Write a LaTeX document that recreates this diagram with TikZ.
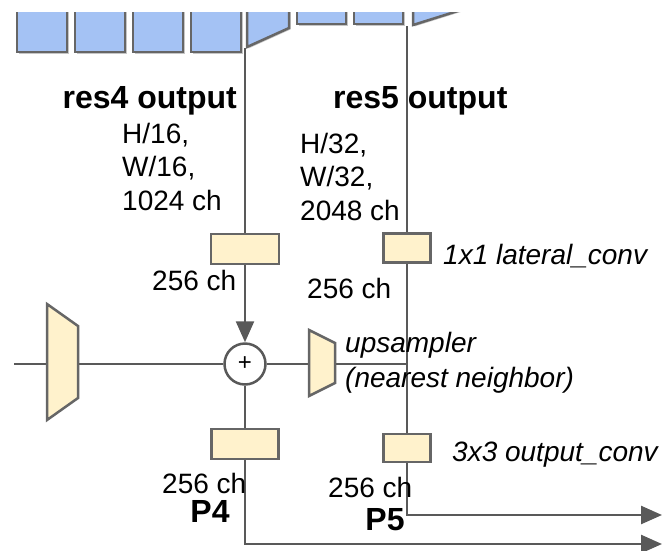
\documentclass[tikz,border=0pt]{standalone}
\usepackage{fontspec}
\setmainfont{Liberation Sans}
\usetikzlibrary{arrows.meta, calc, shadows}
\definecolor{fpn-yellow}{HTML}{FFF2CC}
\definecolor{fpn-blue}{HTML}{A4C2F4}
\definecolor{fpn-edge}{HTML}{666666}
\definecolor{fpn-line}{HTML}{595959}

\begin{document}
\begin{tikzpicture}[x=1pt, y=-1pt,
  conv/.style={draw=fpn-edge, fill=fpn-yellow, line width=2.5pt, inner sep=0pt},
  feat/.style={draw=fpn-edge, fill=fpn-blue, line width=2.5pt, drop shadow={shadow xshift=1.5pt, shadow yshift=-1.5pt, opacity=.45}},
  wire/.style={draw=fpn-line, line width=2.5pt},
  flow/.style={wire, -{Triangle[length=21pt, width=18pt]}},
  lbl/.style={inner sep=0pt, font=\fontsize{28}{33.5}\selectfont},
  head/.style={inner sep=0pt, font=\fontsize{32}{38}\selectfont\bfseries},
  note/.style={inner sep=0pt, font=\fontsize{28}{34}\selectfont\itshape},
]
  \useasboundingbox (0,0) rectangle (662,550);

  % Backbone stages (cut at the top)
  \begin{scope}
    \clip (0,12) rectangle (662,60);
    \foreach \x in {17,75,133,191}
      \draw[feat] (\x,-10) rectangle ++(50,62);
    \draw[feat] (247,-10) -- (247,47) -- (289,28) -- (289,-10) -- cycle;
    \foreach \x in {297,354}
      \draw[feat] (\x,-10) rectangle ++(49,34);
    \draw[feat] (413,-10) -- (413,25) -- (480,4) -- (480,-10) -- cycle;
  \end{scope}
  \coordinate (res4) at (245,48);
  \coordinate (res5) at (407,26);

  % Headings and shapes
  \node[head, anchor=base east] (res4-head) at (237,108) {res4 output};
  \node[head, anchor=base west] (res5-head) at (333,108) {res5 output};
  \node[lbl, align=left, anchor=north west] (res4-dim) at (122,123) {H/16,\\W/16,\\1024 ch};
  \node[lbl, align=left, anchor=north west] (res5-dim) at (300,133) {H/32,\\W/32,\\2048 ch};

  % Convolutions
  \node[conv, minimum width=68pt, minimum height=30pt] (lat4) at (245,249) {};
  \node[conv, minimum width=47pt, minimum height=29pt] (lat5) at (407,248) {};
  \node[conv, minimum width=67pt, minimum height=30pt] (out4) at (245,444) {};
  \node[conv, minimum width=47pt, minimum height=28pt] (out5) at (407,448) {};
  \node[circle, draw=fpn-line, fill=white, line width=2.5pt, minimum size=41pt, inner sep=0pt, font=\fontsize{24}{24}\selectfont] (add) at (245,364) {+};

  % Connectors
  \coordinate (prev) at (14,364);
  \coordinate (p4end) at (662,544);
  \coordinate (p5end) at (662,515);
  \draw[wire] (res4) -- (lat4);
  \draw[flow] (lat4) -- (add);
  \draw[wire] (add) -- (out4);
  \draw[flow] (out4) |- (p4end);
  \draw[wire] (res5) -- (lat5);
  \draw[wire] (lat5) -- (out5);
  \draw[flow] (out5) |- (p5end);
  \draw[wire] (prev) -- (add);
  \draw[wire] (add) -- (add -| lat5);

  % Upsamplers
  \draw[conv] (47,304) -- (78,326) -- (78,398) -- (47,420) -- cycle;
  \draw[conv] (309,330) -- (335,343) -- (335,383) -- (309,396) -- cycle;

  % Labels
  \node[lbl, anchor=base west] (ch4-lat) at (152,290) {256 ch};
  \node[lbl, anchor=base west] (ch5-lat) at (307,298) {256 ch};
  \node[lbl, anchor=base west] (ch4-out) at (162,493) {256 ch};
  \node[lbl, anchor=base west] (ch5-out) at (328,497) {256 ch};
  \node[head, anchor=base] (p4) at (210,522) {P4};
  \node[head, anchor=base] (p5) at (385,530) {P5};
  \node[note, anchor=base west] (lat-note) at (443,264) {1x1 lateral\_conv};
  \node[note, anchor=base west] (up-note) at (345,352) {upsampler};
  \node[note, anchor=base west] (nn-note) at (345,387) {(nearest neighbor)};
  \node[note, anchor=base west] (out-note) at (452,461) {3x3 output\_conv};
\end{tikzpicture}
\end{document}
